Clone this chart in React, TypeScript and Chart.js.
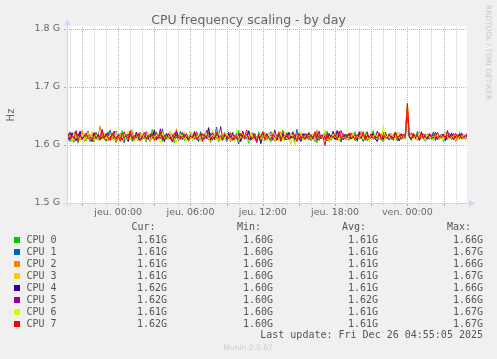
import { useEffect, useRef } from 'react';
import { Chart, registerables } from 'chart.js';

Chart.register(...registerables);

// ---- data ----
const seriesNames = ['CPU 0', 'CPU 1', 'CPU 2', 'CPU 3', 'CPU 4', 'CPU 5', 'CPU 6', 'CPU 7'];
const seriesColors = ['#00cc00', '#0066b3', '#ff8000', '#ffcc00', '#330099', '#990099', '#ccff00', '#ff0000'];

// samples every 10 minutes, first sample at Wed 19:40 (hours relative to Thu 00:00)
const startHour = -13 / 3;
const stepHours = 1 / 6;

// values in MHz
const cpu0 = [
  1612,1619,1606,1622,1609,1615,1603,1620,1611,1617, 1607,1624,1610,1614,1605,1621,1613,1608,1618,1611,
  1606,1623,1614,1609,1619,1604,1616,1612,1625,1608, 1615,1610,1620,1606,1617,1613,1609,1622,1611,1616,
  1605,1619,1612,1627,1608,1614,1610,1621,1606,1616, 1612,1609,1623,1611,1604,1618,1614,1610,1620,1607,
  1615,1611,1624,1608,1617,1613,1606,1621,1610,1618, 1612,1629,1607,1614,1610,1619,1605,1616,1612,1622,
  1609,1614,1606,1620,1613,1610,1625,1608,1617,1611, 1615,1603,1619,1612,1616,1609,1623,1610,1614,1607,
  1618,1612,1605,1621,1614,1609,1617,1611,1626,1608, 1613,1616,1610,1620,1606,1615,1612,1619,1609,1614,
  1610,1622,1607,1616,1613,1604,1619,1611,1615,1609, 1624,1612,1608,1618,1614,1610,1621,1606,1616,1612,
  1619,1608,1614,1611,1623,1606,1617,1613,1610,1620, 1607,1615,1612,1625,1609,1614,1611,1618,1605,1616,
  1612,1620,1609,1615,1611,1622,1607,1617,1613,1610, 1660,1614,1608,1619,1612,1616,1609,1621,1611,1606,
  1617,1613,1610,1623,1608,1615,1612,1619,1606,1614, 1611,1620,1609,1616,1613,1608,1622,1611,1615,1610,
  1613,
];
const cpu1 = [
  1616,1608,1621,1611,1605,1618,1613,1624,1609,1615, 1610,1620,1606,1617,1612,1622,1608,1614,1619,1611,
  1609,1615,1626,1610,1617,1606,1613,1620,1611,1604, 1618,1614,1609,1623,1612,1616,1607,1621,1613,1610,
  1618,1611,1606,1615,1622,1609,1614,1612,1628,1608, 1616,1610,1619,1605,1613,1617,1611,1624,1609,1615,
  1612,1607,1620,1614,1610,1618,1606,1623,1611,1616, 1613,1609,1621,1608,1615,1631,1610,1614,1612,1619,
  1606,1617,1611,1622,1609,1614,1602,1618,1612,1616, 1610,1625,1608,1613,1620,1611,1615,1607,1619,1613,
  1610,1616,1623,1608,1614,1611,1619,1606,1617,1612, 1621,1609,1615,1613,1610,1627,1608,1616,1611,1620,
  1614,1609,1618,1612,1606,1622,1610,1615,1613,1619, 1608,1616,1611,1624,1609,1614,1612,1605,1620,1613,
  1617,1610,1615,1621,1608,1613,1611,1618,1606,1616, 1623,1609,1614,1612,1619,1610,1615,1608,1622,1611,
  1614,1609,1620,1612,1616,1607,1618,1613,1610,1621, 1668,1615,1609,1617,1612,1623,1608,1614,1611,1619,
  1613,1610,1616,1622,1608,1615,1611,1619,1613,1607, 1617,1612,1621,1609,1614,1616,1610,1618,1613,1611,
  1612,
];
const cpu2 = [
  1610,1617,1613,1606,1622,1611,1616,1608,1625,1612, 1609,1619,1614,1607,1620,1611,1615,1633,1610,1616,
  1613,1608,1621,1612,1617,1605,1614,1619,1610,1623, 1608,1615,1611,1618,1606,1616,1613,1622,1609,1614,
  1611,1620,1607,1616,1612,1624,1609,1615,1613,1606, 1619,1611,1617,1614,1610,1628,1608,1613,1616,1612,
  1619,1606,1614,1611,1622,1609,1616,1613,1608,1620, 1612,1615,1604,1618,1611,1623,1610,1614,1609,1617,
  1612,1621,1608,1615,1610,1619,1613,1606,1624,1611, 1616,1609,1614,1620,1612,1607,1618,1613,1610,1622,
  1608,1614,1612,1619,1606,1617,1611,1623,1609,1615, 1613,1610,1621,1612,1603,1618,1614,1609,1616,1611,
  1620,1613,1608,1615,1611,1626,1609,1614,1617,1610, 1619,1606,1616,1612,1622,1608,1615,1611,1618,1613,
  1609,1616,1612,1620,1607,1614,1611,1624,1610,1615, 1613,1608,1619,1612,1616,1610,1621,1614,1609,1617,
  1611,1618,1613,1607,1622,1610,1615,1612,1619,1614, 1662,1616,1610,1620,1613,1608,1617,1612,1615,1609,
  1619,1611,1614,1608,1621,1613,1610,1616,1612,1623, 1609,1615,1611,1618,1606,1614,1612,1620,1610,1615,
  1614,
];
const cpu3 = [
  1614,1609,1618,1612,1607,1621,1610,1616,1613,1605, 1619,1611,1615,1623,1608,1614,1612,1617,1610,1620,
  1611,1616,1608,1614,1622,1610,1613,1619,1606,1615, 1612,1624,1609,1616,1611,1618,1607,1613,1620,1612,
  1609,1615,1621,1611,1617,1608,1614,1612,1623,1606, 1616,1613,1610,1619,1612,1604,1618,1614,1611,1622,
  1608,1616,1612,1620,1610,1615,1613,1607,1621,1611, 1617,1614,1609,1625,1612,1610,1616,1608,1619,1613,
  1615,1610,1622,1612,1606,1618,1614,1611,1620,1609, 1616,1613,1623,1608,1614,1611,1619,1610,1617,1612,
  1613,1621,1609,1615,1611,1618,1607,1616,1612,1624, 1610,1614,1601,1619,1613,1616,1609,1622,1611,1615,
  1610,1617,1613,1620,1608,1615,1612,1618,1611,1623, 1609,1614,1616,1610,1621,1613,1607,1617,1612,1619,
  1614,1611,1622,1609,1616,1613,1620,1610,1615,1612, 1618,1606,1624,1611,1614,1617,1609,1621,1613,1610,
  1616,1612,1619,1608,1615,1613,1622,1610,1617,1611, 1671,1614,1612,1620,1609,1616,1611,1618,1613,1607,
  1621,1612,1615,1610,1619,1613,1608,1617,1611,1622, 1614,1610,1616,1612,1620,1609,1615,1613,1618,1611,
  1613,
];
const cpu4 = [
  1618,1612,1609,1620,1614,1607,1616,1623,1611,1615, 1610,1619,1613,1606,1621,1612,1617,1609,1614,1611,
  1620,1608,1615,1613,1610,1624,1611,1616,1609,1618, 1612,1606,1619,1614,1610,1622,1613,1608,1617,1611,
  1615,1610,1619,1612,1626,1609,1614,1611,1617,1606, 1620,1613,1610,1616,1612,1623,1608,1615,1611,1618,
  1613,1609,1616,1612,1621,1610,1615,1607,1619,1614, 1611,1630,1609,1613,1617,1610,1622,1612,1608,1616,
  1611,1619,1613,1609,1615,1612,1620,1606,1617,1611, 1614,1623,1610,1616,1612,1608,1618,1602,1614,1611,
  1617,1612,1610,1621,1613,1608,1616,1611,1619,1614, 1609,1622,1612,1615,1610,1618,1613,1606,1620,1611,
  1614,1610,1617,1612,1623,1609,1615,1611,1618,1613, 1607,1620,1612,1616,1610,1625,1611,1614,1609,1617,
  1612,1619,1610,1615,1613,1608,1621,1611,1616,1612, 1618,1609,1614,1620,1611,1606,1617,1613,1610,1622,
  1613,1609,1616,1611,1620,1614,1607,1618,1612,1615, 1659,1613,1610,1619,1611,1616,1608,1621,1612,1614,
  1610,1617,1613,1609,1622,1611,1615,1612,1618,1608, 1616,1613,1620,1610,1614,1611,1619,1612,1615,1613,
  1618,
];
const cpu5 = [
  1619,1614,1622,1611,1617,1625,1613,1620,1609,1618, 1615,1623,1612,1616,1621,1610,1619,1614,1627,1613,
  1617,1621,1611,1616,1624,1612,1618,1615,1609,1622, 1614,1619,1613,1626,1611,1617,1620,1614,1618,1612,
  1623,1615,1610,1619,1616,1621,1613,1628,1612,1617, 1614,1620,1611,1618,1615,1624,1609,1616,1622,1613,
  1618,1612,1620,1615,1611,1623,1614,1617,1619,1610, 1625,1613,1616,1621,1612,1618,1614,1632,1611,1617,
  1615,1622,1613,1618,1610,1620,1616,1612,1624,1614, 1619,1611,1617,1621,1613,1604,1618,1615,1623,1612,
  1620,1614,1617,1611,1626,1613,1618,1615,1621,1610, 1616,1619,1612,1623,1614,1617,1611,1620,1615,1618,
  1613,1621,1616,1610,1619,1614,1624,1612,1617,1620, 1611,1618,1615,1622,1613,1616,1609,1625,1614,1619,
  1616,1612,1620,1615,1618,1611,1623,1614,1617,1613, 1621,1610,1619,1616,1612,1624,1615,1618,1611,1620,
  1614,1619,1612,1617,1622,1613,1616,1620,1611,1618, 1661,1615,1621,1612,1617,1614,1623,1610,1619,1616,
  1612,1620,1615,1618,1611,1622,1614,1617,1619,1613, 1625,1612,1616,1620,1614,1618,1611,1621,1615,1617,
  1620,
];
const cpu6 = [
  1611,1617,1613,1608,1620,1612,1615,1606,1619,1614, 1610,1622,1609,1616,1612,1618,1607,1614,1621,1611,
  1615,1609,1618,1613,1606,1623,1611,1616,1612,1619, 1608,1614,1610,1625,1613,1609,1617,1612,1620,1610,
  1614,1621,1608,1616,1611,1618,1613,1604,1620,1612, 1615,1609,1622,1611,1617,1613,1608,1619,1614,1610,
  1617,1612,1623,1609,1615,1611,1619,1606,1616,1613, 1621,1610,1614,1612,1618,1608,1624,1611,1615,1609,
  1620,1613,1610,1616,1612,1627,1608,1615,1611,1618, 1614,1606,1621,1612,1617,1610,1614,1619,1609,1616,
  1612,1618,1611,1622,1609,1615,1613,1620,1607,1616, 1611,1614,1619,1612,1600,1617,1613,1621,1610,1615,
  1618,1611,1616,1609,1622,1613,1610,1617,1612,1626, 1608,1614,1611,1619,1613,1616,1609,1620,1612,1614,
  1610,1616,1613,1621,1608,1615,1612,1618,1610,1623, 1614,1609,1617,1612,1620,1611,1615,1607,1633,1613,
  1616,1611,1619,1613,1608,1621,1612,1615,1610,1618, 1669,1620,1613,1609,1616,1612,1622,1610,1614,1611,
  1618,1612,1615,1609,1620,1613,1611,1617,1608,1621, 1614,1610,1616,1612,1619,1611,1615,1608,1617,1613,
  1612,
];
const cpu7 = [
  1613,1620,1609,1616,1612,1623,1607,1618,1611,1615, 1621,1610,1614,1606,1619,1612,1617,1609,1624,1611,
  1618,1612,1608,1621,1614,1610,1617,1606,1620,1613, 1615,1611,1625,1609,1616,1612,1619,1607,1614,1622,
  1610,1617,1613,1620,1608,1615,1612,1623,1609,1616, 1611,1619,1614,1605,1621,1612,1617,1610,1615,1613,
  1620,1609,1616,1612,1624,1610,1614,1618,1606,1617, 1613,1621,1611,1615,1609,1622,1612,1616,1610,1619,
  1614,1611,1621,1608,1617,1613,1610,1620,1612,1615, 1626,1609,1614,1611,1618,1607,1616,1613,1622,1610,
  1617,1612,1609,1619,1614,1611,1623,1608,1616,1612, 1620,1610,1615,1613,1618,1606,1621,1611,1614,1609,
  1619,1613,1616,1610,1622,1612,1608,1617,1614,1599, 1620,1611,1615,1613,1618,1609,1624,1612,1616,1610,
  1613,1621,1611,1615,1609,1618,1614,1612,1623,1608, 1616,1613,1619,1610,1615,1612,1621,1609,1617,1614,
  1611,1618,1613,1609,1622,1612,1616,1610,1619,1613, 1672,1615,1611,1620,1613,1617,1609,1623,1612,1615,
  1610,1619,1614,1612,1621,1609,1616,1613,1618,1611, 1622,1612,1615,1610,1620,1613,1617,1611,1614,1616,
  1617,
];
const seriesValues = [cpu0, cpu1, cpu2, cpu3, cpu4, cpu5, cpu6, cpu7];

const curLabels = ['1.61G', '1.61G', '1.61G', '1.61G', '1.62G', '1.62G', '1.61G', '1.62G'];
const minLabels = ['1.60G', '1.60G', '1.60G', '1.60G', '1.60G', '1.60G', '1.60G', '1.60G'];
const avgLabels = ['1.61G', '1.61G', '1.61G', '1.61G', '1.61G', '1.62G', '1.61G', '1.61G'];
const maxLabels = ['1.66G', '1.67G', '1.66G', '1.67G', '1.66G', '1.66G', '1.67G', '1.67G'];

const yMin = 1500;
const yMax = 1800;
const yTicks = [1500, 1600, 1700, 1800];
const xMin = -4.25;
const xMax = 28.95;
const xTickHours = [0, 6, 12, 18, 24];
const xTickLabels = ['jeu. 00:00', 'jeu. 06:00', 'jeu. 12:00', 'jeu. 18:00', 'ven. 00:00'];

const titleText = 'CPU frequency scaling - by day';
const yAxisTitle = 'Hz';
const sideText = 'RRDTOOL / TOBI OETIKER';
const lastUpdate = 'Last update: Fri Dec 26 04:55:05 2025';
const footerText = 'Munin 2.0.67';

const FONT = '#666666';
const AXIS = '#cfd6f8';

const decor = {
  id: 'muninDecor',
  beforeDraw(chart: any) {
    const { ctx, chartArea: a } = chart;
    ctx.save();
    ctx.fillStyle = '#f0f0f0';
    ctx.fillRect(0, 0, chart.width, chart.height);
    ctx.fillStyle = '#ffffff';
    ctx.fillRect(a.left, a.top - 3, a.right - a.left, a.bottom - a.top + 3);
    ctx.restore();
  },
  beforeDatasetsDraw(chart: any) {
    const { ctx, chartArea: a, scales } = chart;
    const x = scales.x;
    const y = scales.y;
    ctx.save();
    // vertical grid: every hour minor, every 3 hours major
    for (let h = Math.ceil(xMin); h <= Math.floor(xMax); h++) {
      const px = Math.round(x.getPixelForValue(h));
      const major = ((h % 3) + 3) % 3 === 0;
      ctx.fillStyle = major ? 'rgba(240,120,120,0.75)' : 'rgba(150,150,150,0.45)';
      for (let py = Math.round(a.top) - 2; py < a.bottom; py += 2) ctx.fillRect(px, py, 1, 1);
      // tick below axis
      ctx.fillRect(px, Math.round(a.bottom) + 1, 1, major ? 2 : 1);
    }
    // horizontal grid at the y ticks
    ctx.fillStyle = 'rgba(240,120,120,0.75)';
    for (const v of yTicks) {
      const py = Math.round(y.getPixelForValue(v));
      for (let px = Math.round(a.left); px < a.right; px += 2) ctx.fillRect(px, py, 1, 1);
      ctx.fillRect(Math.round(a.left) - 3, py, 2, 1);
    }
    ctx.restore();
  },
  afterDraw(chart: any) {
    const { ctx, chartArea: a } = chart;
    ctx.save();
    // axes
    ctx.strokeStyle = AXIS;
    ctx.fillStyle = AXIS;
    ctx.lineWidth = 1;
    const ax = Math.round(a.left) + 0.5;
    const ay = Math.round(a.bottom) + 0.5;
    ctx.beginPath();
    ctx.moveTo(ax, ay + 3);
    ctx.lineTo(ax, a.top - 5);
    ctx.moveTo(ax - 4, ay);
    ctx.lineTo(a.right + 3, ay);
    ctx.stroke();
    ctx.beginPath();
    ctx.moveTo(ax - 3, a.top - 4);
    ctx.lineTo(ax + 3, a.top - 4);
    ctx.lineTo(ax, a.top - 10);
    ctx.closePath();
    ctx.fill();
    ctx.beginPath();
    ctx.moveTo(a.right + 2, ay - 3.5);
    ctx.lineTo(a.right + 2, ay + 3.5);
    ctx.lineTo(a.right + 8, ay);
    ctx.closePath();
    ctx.fill();

    // title
    ctx.fillStyle = FONT;
    ctx.font = '12.5px "DejaVu Sans"';
    ctx.textAlign = 'center';
    ctx.textBaseline = 'alphabetic';
    ctx.fillText(titleText, 248.5, 24);

    // y axis title
    ctx.save();
    ctx.translate(11, 115);
    ctx.rotate(-Math.PI / 2);
    ctx.font = '10px "DejaVu Sans"';
    ctx.textBaseline = 'middle';
    ctx.fillText(yAxisTitle, 0, 0);
    ctx.restore();

    // side text
    ctx.save();
    ctx.translate(487.5, 5);
    ctx.rotate(Math.PI / 2);
    ctx.font = '7.4px "DejaVu Sans"';
    ctx.fillStyle = '#c8c8c8';
    ctx.textAlign = 'left';
    ctx.textBaseline = 'middle';
    ctx.fillText(sideText, 0, 0);
    ctx.restore();

    // legend
    ctx.font = '10px "DejaVu Sans Mono"';
    ctx.textBaseline = 'middle';
    ctx.textAlign = 'left';
    ctx.fillStyle = '#555555';
    const headerY = 227.5;
    ctx.fillText('Cur:', 131.5, headerY);
    ctx.fillText('Min:', 237, headerY);
    ctx.fillText('Avg:', 342, headerY);
    ctx.fillText('Max:', 447, headerY);
    for (let i = 0; i < seriesNames.length; i++) {
      const ry = 240 + i * 12;
      ctx.fillStyle = seriesColors[i];
      ctx.fillRect(14, ry - 3, 6, 6);
      ctx.fillStyle = '#555555';
      ctx.textAlign = 'left';
      ctx.fillText(seriesNames[i], 26.5, ry);
      ctx.textAlign = 'right';
      ctx.fillText(curLabels[i], 167, ry);
      ctx.fillText(minLabels[i], 273, ry);
      ctx.fillText(avgLabels[i], 378, ry);
      ctx.fillText(maxLabels[i], 483, ry);
    }
    ctx.textAlign = 'right';
    ctx.fillText(lastUpdate, 483, 335.5);

    ctx.font = '7.6px "DejaVu Sans"';
    ctx.fillStyle = '#cccccc';
    ctx.textAlign = 'center';
    ctx.fillText(footerText, 248, 348);
    ctx.restore();
  },
};

export default function App() {
  const canvasRef = useRef<HTMLCanvasElement | null>(null);

  useEffect(() => {
    document.body.style.margin = '0';
    const canvas = canvasRef.current;
    if (!canvas) return;
    const datasets = seriesValues.map((vals, i) => ({
      label: seriesNames[i],
      data: vals.map((v, k) => ({ x: startHour + k * stepHours, y: v })),
      borderColor: seriesColors[i],
      backgroundColor: seriesColors[i],
      borderWidth: 1,
      pointRadius: 0,
      tension: 0,
      fill: false,
      order: seriesNames.length - 1 - i,
    }));
    const chart = new Chart(canvas, {
      type: 'line',
      data: { datasets },
      options: {
        animation: false,
        responsive: false,
        devicePixelRatio: 1,
        layout: { padding: { left: 0, top: 29, right: 30, bottom: 0 } },
        plugins: {
          legend: { display: false },
          title: { display: false },
          tooltip: { enabled: false },
        },
        scales: {
          x: {
            type: 'linear',
            min: xMin,
            max: xMax,
            afterBuildTicks: (s: any) => {
              s.ticks = xTickHours.map((v) => ({ value: v }));
            },
            afterFit: (s: any) => {
              s.height = 156;
            },
            ticks: {
              autoSkip: false,
              maxRotation: 0,
              padding: 4,
              color: FONT,
              font: { family: 'DejaVu Sans', size: 9.5 },
              callback: (v: any) => {
                const idx = xTickHours.indexOf(Number(v));
                return idx >= 0 ? xTickLabels[idx] : '';
              },
            },
            grid: { display: false, drawTicks: false },
            border: { display: false },
          },
          y: {
            type: 'linear',
            min: yMin,
            max: yMax,
            afterBuildTicks: (s: any) => {
              s.ticks = yTicks.map((v) => ({ value: v }));
            },
            afterFit: (s: any) => {
              s.width = 67;
            },
            ticks: {
              padding: 7,
              color: FONT,
              font: { family: 'DejaVu Sans', size: 9.5 },
              callback: (v: any) => (Number(v) / 1000).toFixed(1) + ' G',
            },
            grid: { display: false, drawTicks: false },
            border: { display: false },
          },
        },
      },
      plugins: [decor],
    });
    return () => chart.destroy();
  }, []);

  return (
    <div style={{ position: 'fixed', left: 0, top: 0, width: 497, height: 359, background: '#f0f0f0' }}>
      <canvas ref={canvasRef} width={497} height={359} style={{ display: 'block', width: 497, height: 359 }} />
    </div>
  );
}
